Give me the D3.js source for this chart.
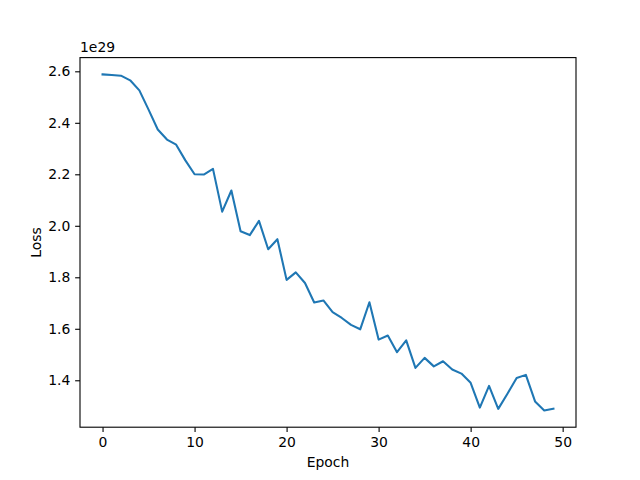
<!DOCTYPE html>
<html>
<head>
<meta charset="utf-8">
<script src="https://cdn.jsdelivr.net/npm/d3@7"></script>
<style>
  body { margin: 0; background: #fff; }
  text { font-family: "DejaVu Sans", sans-serif; fill: #000; }
</style>
</head>
<body>
<div id="chart"></div>
<script>
// loss per epoch, in units of 1e29
var epochs = d3.range(0, 50);
var lossValues = [
  2.588, 2.586, 2.583, 2.565, 2.526, 2.451, 2.374, 2.335, 2.315, 2.254,
  2.200, 2.199, 2.221, 2.055, 2.137, 1.979, 1.964, 2.019, 1.909, 1.948,
  1.790, 1.819, 1.778, 1.702, 1.710, 1.665, 1.642, 1.615, 1.598, 1.703,
  1.558, 1.574, 1.509, 1.555, 1.448, 1.487, 1.454, 1.474, 1.442, 1.426,
  1.390, 1.294, 1.378, 1.289, 1.348, 1.409, 1.421, 1.318, 1.283, 1.290
];
var xTicks = [0, 10, 20, 30, 40, 50];
var yTicks = [1.4, 1.6, 1.8, 2.0, 2.2, 2.4, 2.6];

var width = 640, height = 480;
var margin = { top: 57.6, right: 64, bottom: 52.8, left: 80 };
var innerW = width - margin.left - margin.right;
var innerH = height - margin.top - margin.bottom;

var svg = d3.select("#chart").append("svg")
  .attr("width", width)
  .attr("height", height);

var g = svg.append("g")
  .attr("transform", `translate(${margin.left},${margin.top})`);

// matplotlib style 5% margins
var xPad = (d3.max(epochs) - d3.min(epochs)) * 0.05;
var yExt = d3.extent(lossValues);
var yPad = (yExt[1] - yExt[0]) * 0.05;

var x = d3.scaleLinear()
  .domain([d3.min(epochs) - xPad, d3.max(epochs) + xPad])
  .range([0, innerW]);
var y = d3.scaleLinear()
  .domain([yExt[0] - yPad, yExt[1] + yPad])
  .range([innerH, 0]);

var tickLen = 4.86;

var xAxis = g.append("g")
  .attr("transform", `translate(0,${innerH})`)
  .call(d3.axisBottom(x).tickValues(xTicks).tickSize(tickLen).tickPadding(4.86).tickFormat(d3.format("d")));
var yAxis = g.append("g")
  .call(d3.axisLeft(y).tickValues(yTicks).tickSize(tickLen).tickPadding(4.86).tickFormat(d3.format(".1f")));

[xAxis, yAxis].forEach(function (a) {
  a.select(".domain").remove();
  a.selectAll(".tick line").attr("stroke", "#000").attr("stroke-width", 1.1);
  a.selectAll(".tick text").style("font-size", "13.9px").style("font-family", "DejaVu Sans, sans-serif");
});

// line
var line = d3.line()
  .x(function (d, i) { return x(epochs[i]); })
  .y(function (d) { return y(d); });

g.append("path")
  .datum(lossValues)
  .attr("fill", "none")
  .attr("stroke", "#1f77b4")
  .attr("stroke-width", 2.08)
  .attr("stroke-linejoin", "round")
  .attr("stroke-linecap", "square")
  .attr("d", line);

// frame
g.append("rect")
  .attr("width", innerW)
  .attr("height", innerH)
  .attr("fill", "none")
  .attr("stroke", "#000")
  .attr("stroke-width", 1.1);

// labels
svg.append("text")
  .attr("x", margin.left + innerW / 2)
  .attr("y", 467)
  .attr("text-anchor", "middle")
  .style("font-size", "13.9px")
  .text("Epoch");

svg.append("text")
  .attr("transform", `translate(41,${margin.top + innerH / 2}) rotate(-90)`)
  .attr("text-anchor", "middle")
  .style("font-size", "13.9px")
  .text("Loss");

svg.append("text")
  .attr("x", margin.left)
  .attr("y", 52)
  .style("font-size", "13.9px")
  .text("1e29");
</script>
</body>
</html>
